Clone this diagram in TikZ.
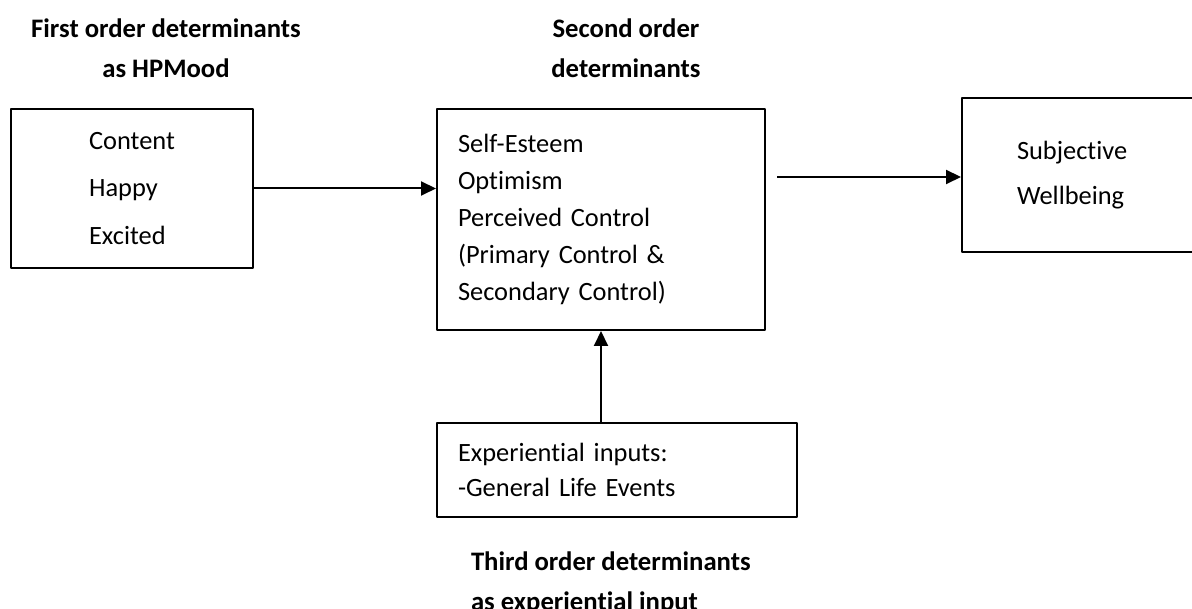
\documentclass[tikz,border=0pt]{standalone}
\usepackage{fontspec}
\setmainfont{Carlito}[Ligatures=NoCommon]
\usetikzlibrary{arrows.meta}
\tikzset{
  detbox/.style={draw,rectangle,align=left,inner ysep=0pt},
  dettitle/.style={font=\bfseries\fontsize{26.8}{40}\selectfont,align=center,inner sep=0pt},
}
\begin{document}
\begin{tikzpicture}[>={Triangle[length=15bp,width=14bp]},line join=bevel,line width=2bp]
\useasboundingbox (0bp,0bp) rectangle (1192bp,609bp);
%%
  \node (FirstTitle) at (166bp,561bp) [dettitle] {First order determinants\\as HPMood};
  \node (SecondTitle) at (626bp,561bp) [dettitle] {Second order\\determinants};
  \node (ThirdTitle) at (470bp,26bp) [dettitle,anchor=west,align=left] {Third order determinants\\as experiential input};
  \node (HPMood) at (132bp,420.5bp) [detbox,minimum width=242bp,minimum height=159bp,font=\fontsize{26.5}{48}\selectfont] {Content\\Happy\\Excited};
  \node (SecondOrder) at (601bp,389.5bp) [detbox,text width=286bp,inner xsep=21bp,minimum height=221bp,font=\fontsize{26.5}{37}\selectfont] {Self-Esteem\\Optimism\\Perceived Control\\(Primary Control \&\\Secondary Control)};
  \node (SWB) at (1112bp,434bp) [detbox,text width=190bp,inner xsep=55bp,minimum height=154bp,font=\fontsize{26.5}{45}\selectfont] {Subjective\\Wellbeing};
  \node (Inputs) at (617bp,139bp) [detbox,text width=318bp,inner xsep=21bp,minimum height=94bp,font=\fontsize{26.5}{36}\selectfont] {Experiential inputs:\\-General Life Events};
  \coordinate (SWBgap) at (777bp,432bp);
  \draw [->] (HPMood) -- (HPMood -| SecondOrder.west);
  \draw [->] (SWBgap) -- (SWBgap -| SWB.west);
  \draw [->] (Inputs.north -| SecondOrder) -- (SecondOrder);
%
\end{tikzpicture}
\end{document}
